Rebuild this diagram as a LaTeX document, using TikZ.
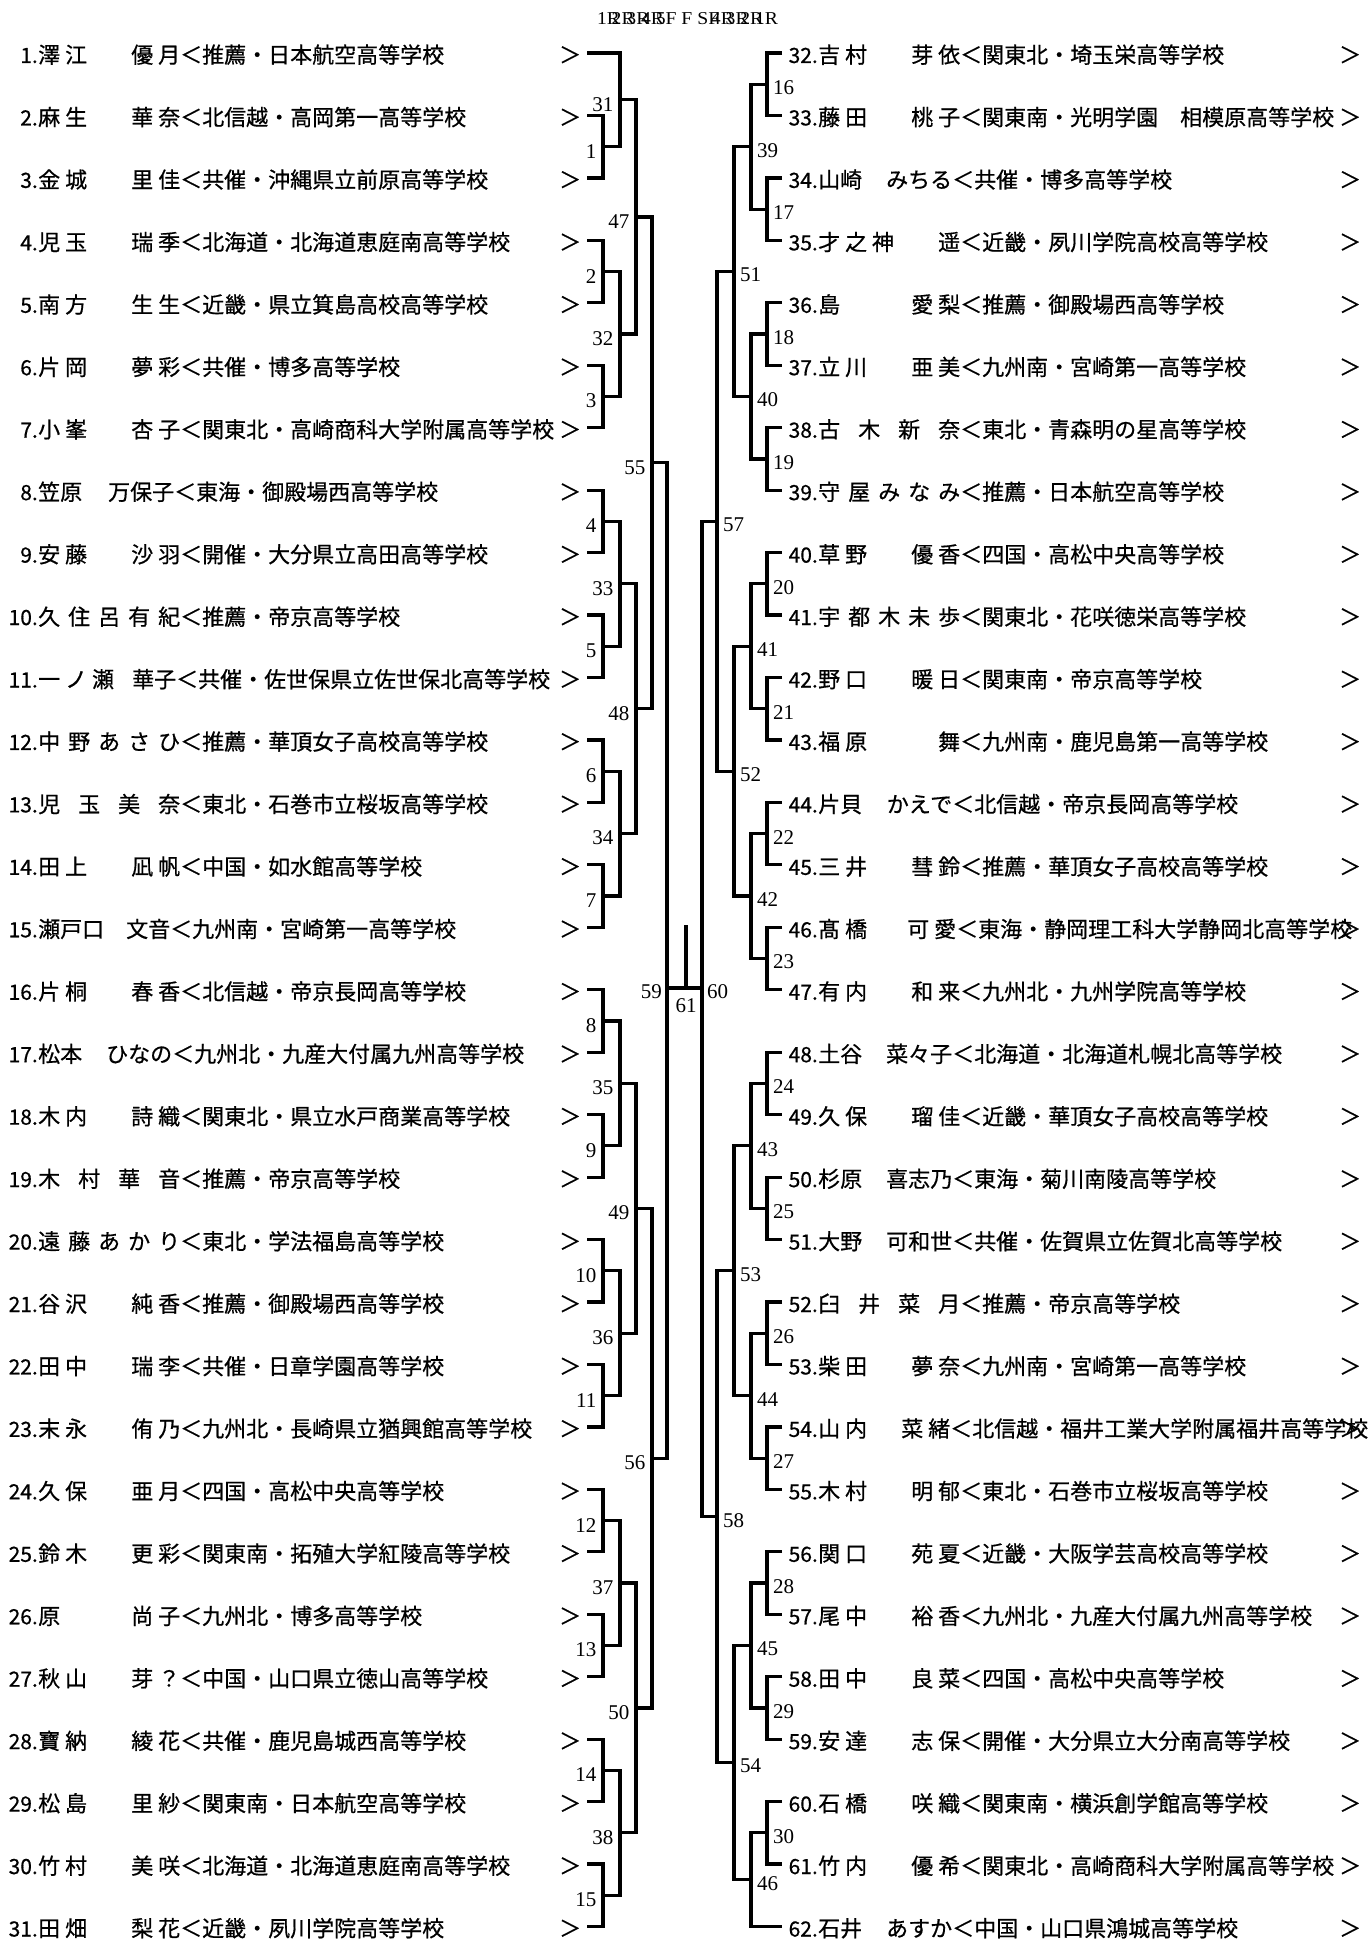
\documentclass[tikz,border=0pt]{standalone}
\usepackage{fontspec}
\usepackage{graphicx}
\usetikzlibrary{calc}
\newfontfamily\jpf[FakeBold=0.6]{Noto Sans CJK JP}
\newfontfamily\jpn[FakeBold=0.6]{Noto Sans CJK JP}
\newfontfamily\serf{Liberation Serif}
\newcommand\ov{\kern-.42em}
\tikzset{
  br/.style={line width=3.2pt, line join=miter, black},
  lab/.style={inner sep=0pt, font=\serf\fontsize{21}{21}\selectfont},
  numtxt/.style={anchor=base east, inner sep=0pt, font=\jpf\fontsize{21}{21}\selectfont},
  rowtxt/.style={anchor=base west, inner sep=0pt, font=\jpf\fontsize{22}{22}\selectfont},
}
% left row: [name width]{number}{name}{school}
\newcommand\lrow[4][142pt]{%
  \node[numtxt] (t#2) at (38,{63+62.45*(#2-1)}) {#2.};
  \node[rowtxt] (n#2) at (38,{63+62.45*(#2-1)}) {\makebox[#1][l]{#3}\makebox[22pt]{\jpn ＜}#4};
  \node[rowtxt] (g#2) at (559,{63+62.45*(#2-1)}) {\jpn ＞};
  \coordinate (p#2) at (587,{53+62.45*(#2-1)});}
\newcommand\rrow[4][142pt]{%
  \node[numtxt] (t#2) at (818,{63+62.45*(#2-32)}) {#2.};
  \node[rowtxt] (n#2) at (818,{63+62.45*(#2-32)}) {\makebox[#1][l]{#3}\makebox[22pt]{\jpn ＜}#4};
  \node[rowtxt] (g#2) at (1339,{63+62.45*(#2-32)}) {\jpn ＞};
  \coordinate (p#2) at (782,{53+62.45*(#2-32)});}
% match: {number}{input1}{input2}{x of vertical}
\newcommand\mL[4]{%
  \path let \p1=(#2), \p2=(#3) in coordinate (m#1) at (#4pt,{0.5*\y1+0.5*\y2});
  \draw[br] (#2) -| (m#1) |- (#3);
  \node[lab, anchor=east] (l#1) at ([shift={(-6.5pt,-4.5pt)}]m#1) {#1};}
\newcommand\mR[4]{%
  \path let \p1=(#2), \p2=(#3) in coordinate (m#1) at (#4pt,{0.5*\y1+0.5*\y2});
  \draw[br] (#2) -| (m#1) |- (#3);
  \node[lab, anchor=west] (l#1) at ([shift={(6pt,-3.5pt)}]m#1) {#1};}
\begin{document}
\begin{tikzpicture}[x=1pt,y=-1pt]
\fill[white] (0,0) rectangle (1371,1943);
\useasboundingbox (0,0) rectangle (1371,1943);

\node[inner sep=0pt] (hdr) at (687.5,19) {\resizebox{181pt}{12pt}{\serf 1R\ov 2R\ov 3R\ov 4R\ov 5F F SF\ov 4R\ov 3R\ov 2R\ov 1R}};

% ---------- left players ----------
\lrow{1}{澤 江\hfill 優 月}{推薦・日本航空高等学校}
\lrow{2}{麻 生\hfill 華 奈}{北信越・高岡第一高等学校}
\lrow{3}{金 城\hfill 里 佳}{共催・沖縄県立前原高等学校}
\lrow{4}{児 玉\hfill 瑞 季}{北海道・北海道恵庭南高等学校}
\lrow{5}{南 方\hfill 生 生}{近畿・県立箕島高校高等学校}
\lrow{6}{片 岡\hfill 夢 彩}{共催・博多高等学校}
\lrow{7}{小 峯\hfill 杏 子}{関東北・高崎商科大学附属高等学校}
\lrow[136pt]{8}{笠原\hfill 万保子}{東海・御殿場西高等学校}
\lrow{9}{安 藤\hfill 沙 羽}{開催・大分県立高田高等学校}
\lrow{10}{久\hfill 住\hfill 呂\hfill 有\hfill 紀}{推薦・帝京高等学校}
\lrow[138pt]{11}{一 ノ 瀬\hfill 華子}{共催・佐世保県立佐世保北高等学校}
\lrow{12}{中\hfill 野\hfill あ\hfill さ\hfill ひ}{推薦・華頂女子高校高等学校}
\lrow{13}{児\hfill 玉\hfill 美\hfill 奈}{東北・石巻市立桜坂高等学校}
\lrow{14}{田 上\hfill 凪 帆}{中国・如水館高等学校}
\lrow[132pt]{15}{瀬戸口\hfill 文音}{九州南・宮崎第一高等学校}
\lrow{16}{片 桐\hfill 春 香}{北信越・帝京長岡高等学校}
\lrow[134pt]{17}{松本\hfill ひなの}{九州北・九産大付属九州高等学校}
\lrow{18}{木 内\hfill 詩 織}{関東北・県立水戸商業高等学校}
\lrow{19}{木\hfill 村\hfill 華\hfill 音}{推薦・帝京高等学校}
\lrow{20}{遠\hfill 藤\hfill あ\hfill か\hfill り}{東北・学法福島高等学校}
\lrow{21}{谷 沢\hfill 純 香}{推薦・御殿場西高等学校}
\lrow{22}{田 中\hfill 瑞 李}{共催・日章学園高等学校}
\lrow{23}{末 永\hfill 侑 乃}{九州北・長崎県立猶興館高等学校}
\lrow{24}{久 保\hfill 亜 月}{四国・高松中央高等学校}
\lrow{25}{鈴 木\hfill 更 彩}{関東南・拓殖大学紅陵高等学校}
\lrow{26}{原\hfill 尚 子}{九州北・博多高等学校}
\lrow{27}{秋 山\hfill 芽 ？}{中国・山口県立徳山高等学校}
\lrow{28}{寶 納\hfill 綾 花}{共催・鹿児島城西高等学校}
\lrow{29}{松 島\hfill 里 紗}{関東南・日本航空高等学校}
\lrow{30}{竹 村\hfill 美 咲}{北海道・北海道恵庭南高等学校}
\lrow{31}{田 畑\hfill 梨 花}{近畿・夙川学院高等学校}

% ---------- right players ----------
\rrow{32}{吉 村\hfill 芽 依}{関東北・埼玉栄高等学校}
\rrow{33}{藤 田\hfill 桃 子}{関東南・光明学園　相模原高等学校}
\rrow[134pt]{34}{山崎\hfill みちる}{共催・博多高等学校}
\rrow{35}{才 之 神\hfill 遥}{近畿・夙川学院高校高等学校}
\rrow{36}{島\hfill 愛 梨}{推薦・御殿場西高等学校}
\rrow{37}{立 川\hfill 亜 美}{九州南・宮崎第一高等学校}
\rrow{38}{古\hfill 木\hfill 新\hfill 奈}{東北・青森明の星高等学校}
\rrow{39}{守\hfill 屋\hfill み\hfill な\hfill み}{推薦・日本航空高等学校}
\rrow{40}{草 野\hfill 優 香}{四国・高松中央高等学校}
\rrow{41}{宇\hfill 都\hfill 木\hfill 未\hfill 歩}{関東北・花咲徳栄高等学校}
\rrow{42}{野 口\hfill 暖 日}{関東南・帝京高等学校}
\rrow{43}{福 原\hfill 舞}{九州南・鹿児島第一高等学校}
\rrow[134pt]{44}{片貝\hfill かえで}{北信越・帝京長岡高等学校}
\rrow{45}{三 井\hfill 彗 鈴}{推薦・華頂女子高校高等学校}
\rrow[138pt]{46}{髙 橋\hfill 可 愛}{東海・静岡理工科大学静岡北高等学校}
\rrow{47}{有 内\hfill 和 来}{九州北・九州学院高等学校}
\rrow[134pt]{48}{土谷\hfill 菜々子}{北海道・北海道札幌北高等学校}
\rrow{49}{久 保\hfill 瑠 佳}{近畿・華頂女子高校高等学校}
\rrow[134pt]{50}{杉原\hfill 喜志乃}{東海・菊川南陵高等学校}
\rrow[134pt]{51}{大野\hfill 可和世}{共催・佐賀県立佐賀北高等学校}
\rrow{52}{臼\hfill 井\hfill 菜\hfill 月}{推薦・帝京高等学校}
\rrow{53}{柴 田\hfill 夢 奈}{九州南・宮崎第一高等学校}
\rrow[132pt]{54}{山 内\hfill 菜 緒}{北信越・福井工業大学附属福井高等学校}
\rrow{55}{木 村\hfill 明 郁}{東北・石巻市立桜坂高等学校}
\rrow{56}{関 口\hfill 苑 夏}{近畿・大阪学芸高校高等学校}
\rrow{57}{尾 中\hfill 裕 香}{九州北・九産大付属九州高等学校}
\rrow{58}{田 中\hfill 良 菜}{四国・高松中央高等学校}
\rrow{59}{安 達\hfill 志 保}{開催・大分県立大分南高等学校}
\rrow{60}{石 橋\hfill 咲 織}{関東南・横浜創学館高等学校}
\rrow{61}{竹 内\hfill 優 希}{関東北・高崎商科大学附属高等学校}
\rrow[134pt]{62}{石井\hfill あすか}{中国・山口県鴻城高等学校}

% ---------- left bracket ----------
\mL{1}{p2}{p3}{603}
\mL{2}{p4}{p5}{603}
\mL{3}{p6}{p7}{603}
\mL{4}{p8}{p9}{603}
\mL{5}{p10}{p11}{603}
\mL{6}{p12}{p13}{603}
\mL{7}{p14}{p15}{603}
\mL{8}{p16}{p17}{603}
\mL{9}{p18}{p19}{603}
\mL{10}{p20}{p21}{603}
\mL{11}{p22}{p23}{603}
\mL{12}{p24}{p25}{603}
\mL{13}{p26}{p27}{603}
\mL{14}{p28}{p29}{603}
\mL{15}{p30}{p31}{603}
\mL{31}{p1}{m1}{620}
\mL{32}{m2}{m3}{620}
\mL{33}{m4}{m5}{620}
\mL{34}{m6}{m7}{620}
\mL{35}{m8}{m9}{620}
\mL{36}{m10}{m11}{620}
\mL{37}{m12}{m13}{620}
\mL{38}{m14}{m15}{620}
\mL{47}{m31}{m32}{636}
\mL{48}{m33}{m34}{636}
\mL{49}{m35}{m36}{636}
\mL{50}{m37}{m38}{636}
\mL{55}{m47}{m48}{652}
\mL{56}{m49}{m50}{652}

% ---------- right bracket ----------
\mR{16}{p32}{p33}{767}
\mR{17}{p34}{p35}{767}
\mR{18}{p36}{p37}{767}
\mR{19}{p38}{p39}{767}
\mR{20}{p40}{p41}{767}
\mR{21}{p42}{p43}{767}
\mR{22}{p44}{p45}{767}
\mR{23}{p46}{p47}{767}
\mR{24}{p48}{p49}{767}
\mR{25}{p50}{p51}{767}
\mR{26}{p52}{p53}{767}
\mR{27}{p54}{p55}{767}
\mR{28}{p56}{p57}{767}
\mR{29}{p58}{p59}{767}
\mR{30}{p60}{p61}{767}
\mR{39}{m16}{m17}{751}
\mR{40}{m18}{m19}{751}
\mR{41}{m20}{m21}{751}
\mR{42}{m22}{m23}{751}
\mR{43}{m24}{m25}{751}
\mR{44}{m26}{m27}{751}
\mR{45}{m28}{m29}{751}
\mR{46}{m30}{p62}{751}
\mR{51}{m39}{m40}{734}
\mR{52}{m41}{m42}{734}
\mR{53}{m43}{m44}{734}
\mR{54}{m45}{m46}{734}
\mR{57}{m51}{m52}{717}
\mR{58}{m53}{m54}{717}

% ---------- semi-finals and final ----------
\coordinate (m59) at (667,988);
\coordinate (m60) at (702,988);
\draw[br] (m55) -| (m59) |- (m56);
\draw[br] (m57) -| (m60) |- (m58);
\node[lab, anchor=east] (l59) at ([shift={(-5pt,-4pt)}]m59) {59};
\node[lab, anchor=west] (l60) at ([shift={(5pt,-3.5pt)}]m60) {60};
\coordinate (c61) at (686,988);
\coordinate (champ) at (686,925);
\draw[br] (m59) -- (m60);
\draw[br] (c61) -- (champ);
\node[lab, anchor=north] (l61) at ([yshift=-10pt]c61) {61};
\end{tikzpicture}
\end{document}
